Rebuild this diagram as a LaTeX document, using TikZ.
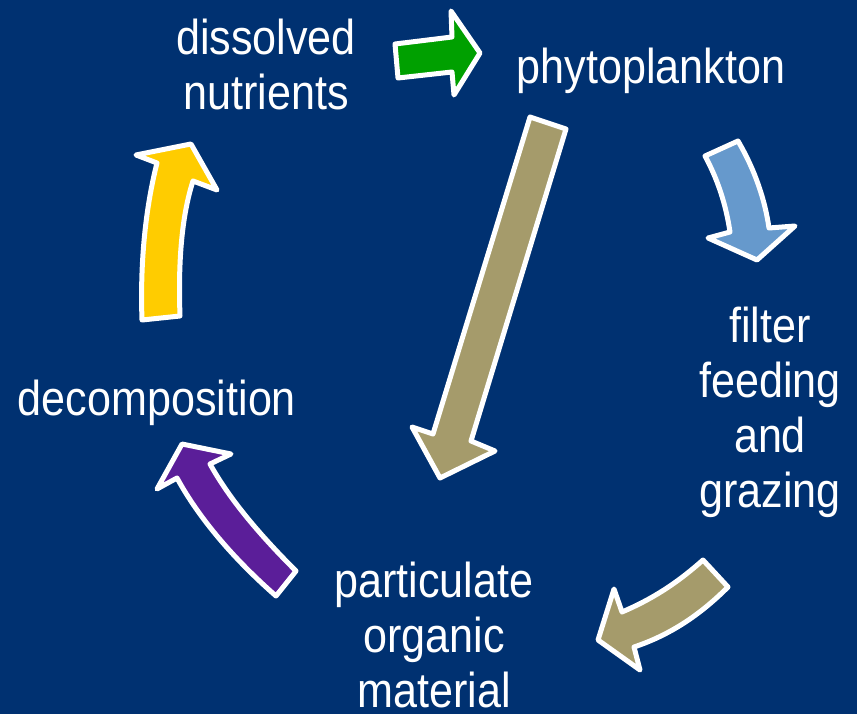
\documentclass[tikz,border=0pt]{standalone}
\usepackage{fontspec}
\newfontfamily\cyclefont[FakeStretch=0.88]{Liberation Sans}
\definecolor{OceanBlue}{HTML}{003171}
\definecolor{NutrientGreen}{HTML}{00A000}
\definecolor{GrazeBlue}{HTML}{6699CC}
\definecolor{DetritusTan}{HTML}{A59B6B}
\definecolor{DecayPurple}{HTML}{5B1E99}
\definecolor{RemineralYellow}{HTML}{FFCC00}

\begin{document}
\begin{tikzpicture}[x=1pt, y=-1pt,
    stage/.style={text=white, font=\cyclefont\fontsize{49}{55}\selectfont, align=center, inner sep=0pt, anchor=base},
    blockarrow/.style={draw=white, line width=5pt, line join=round}]
        % Background
        \fill[OceanBlue] (0,0) rectangle (857,714);
        \useasboundingbox (0,0) rectangle (857,714);

        % Nodes (base = baseline of last line)
        \node[stage] (nutrients) at (266,110) {dissolved\\nutrients};
        \node[stage] (phyto) at (651,84) {phytoplankton};
        \node[stage] (grazing) at (770,507) {filter\\feeding\\and\\grazing};
        \node[stage] (poc) at (434,707) {particulate\\organic\\material};
        \node[stage] (decomp) at (157,415) {decomposition};

        % Arrows
        \filldraw[blockarrow, fill=NutrientGreen] (395,44) -- (452,37) -- (451,11) -- (480,53) -- (454,95) -- (452,72) -- (398,78) -- cycle;
        \filldraw[blockarrow, fill=GrazeBlue] (705,156) -- (738,141) .. controls (755,170) and (765,200) .. (769,228) -- (795,226) -- (757,260) -- (708,238) -- (730,232) .. controls (726,205) and (718,180) .. (705,156) -- cycle;
        \filldraw[blockarrow, fill=DetritusTan] (530,117) -- (566,129) -- (471,441) -- (495,451) -- (440,478) -- (412,427) -- (433,434) -- cycle;
        \filldraw[blockarrow, fill=DetritusTan] (728,587) -- (703,560) .. controls (675,585) and (650,600) .. (622,612) -- (614,589) -- (598,640) -- (640,670) -- (634,647) .. controls (670,635) and (700,615) .. (728,587) -- cycle;
        \filldraw[blockarrow, fill=DecayPurple] (276,596) -- (296,571) .. controls (260,535) and (230,500) .. (210,464) -- (231,454) -- (182,444) -- (157,489) -- (177,478) .. controls (200,520) and (235,560) .. (276,596) -- cycle;
        \filldraw[blockarrow, fill=RemineralYellow] (142,320) -- (180,316) .. controls (178,260) and (182,215) .. (193,181) -- (217,190) -- (191,144) -- (136,155) -- (157,163) .. controls (145,210) and (140,265) .. (142,320) -- cycle;
\end{tikzpicture}
\end{document}
